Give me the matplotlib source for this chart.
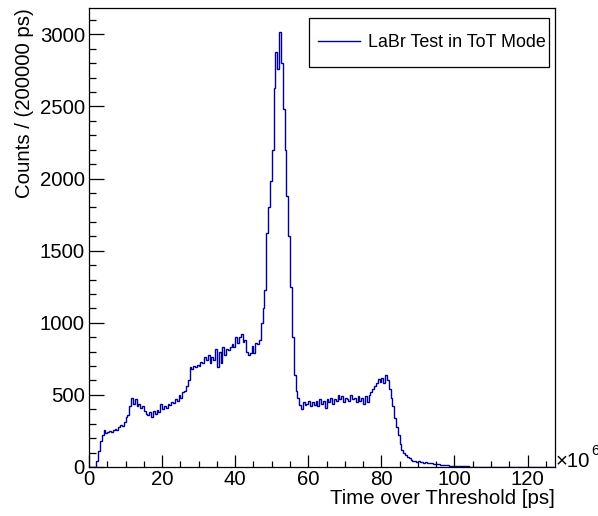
import numpy as np
import matplotlib
matplotlib.use("Agg")
import matplotlib.pyplot as plt
from matplotlib.patches import Rectangle

plt.rcParams['font.family'] = ['Liberation Sans', 'DejaVu Sans']

# ToT histogram, bins of 0.5 (x10^6 ps), counts per 200000 ps
bin_width = 0.5
counts = [
    # 0 - 10
    0, 0, 0, 0, 40, 110, 180, 220, 260, 235,
    240, 250, 245, 258, 262, 255, 275, 290, 285, 310,
    # 10 - 20
    345, 360, 420, 480, 440, 470, 420, 440, 410, 420,
    390, 370, 360, 380, 350, 385, 370, 395, 380, 440,
    # 20 - 30
    400, 420, 410, 440, 430, 450, 445, 470, 460, 500,
    480, 520, 530, 560, 600, 690, 680, 700, 690, 710,
    # 30 - 40
    700, 730, 720, 760, 740, 780, 720, 760, 740, 820,
    690, 800, 720, 830, 780, 820, 810, 830, 850, 830,
    # 40 - 50
    900, 860, 900, 920, 870, 880, 800, 780, 790, 840,
    790, 860, 850, 880, 1000, 1100, 1230, 1620, 1800, 1980,
    # 50 - 60
    2200, 2630, 2880, 2760, 3020, 2800, 2480, 2200, 1880, 1600,
    1250, 900, 640, 530, 480, 430, 400, 450, 430, 440,
    # 60 - 70
    460, 420, 450, 430, 460, 420, 470, 440, 460, 410,
    470, 450, 480, 440, 470, 460, 500, 470, 490, 450,
    # 70 - 80
    480, 470, 460, 500, 470, 480, 450, 490, 460, 480,
    440, 490, 450, 500, 520, 540, 560, 580, 610, 590,
    # 80 - 90
    620, 580, 640, 600, 540, 480, 420, 340, 280, 220,
    160, 120, 95, 80, 70, 60, 50, 45, 42, 38,
    # 90 - 100
    40, 35, 38, 30, 32, 28, 25, 27, 22, 20,
    22, 18, 15, 16, 13, 12, 11, 10, 9, 8,
    # 100 - 110
    7, 6, 6, 5, 5, 4, 4, 4, 3, 3,
    3, 3, 2, 3, 2, 2, 2, 2, 1, 2,
    # 110 - 127.5
    1, 2, 1, 1, 1, 1, 0, 1, 1, 0,
    1, 0, 0, 1, 0, 0, 1, 0, 0, 0,
    0, 0, 0, 0, 0, 0, 0, 0, 0, 0,
    0, 0, 0, 0, 0,
]
counts = np.array(counts, dtype=float)
edges = np.arange(len(counts) + 1) * bin_width

legend_label = "LaBr Test in ToT Mode"
x_title = "Time over Threshold [ps]"
y_title = "Counts / (200000 ps)"

W, H = 598, 516
fig = plt.figure(figsize=(W / 100, H / 100), dpi=100)
ax = fig.add_axes([89 / W, 49 / H, 466 / W, 459 / H])

ax.stairs(counts, edges, color='#000099', linewidth=1.0, label=legend_label)

ax.set_xlim(0, 127.5)
ax.set_ylim(0, 3183)

ax.set_xticks(np.arange(0, 121, 20))
ax.set_xticks(np.arange(0, 127.5, 5), minor=True)
ax.set_yticks(np.arange(0, 3001, 500))
ax.set_yticks(np.arange(0, 3183, 100), minor=True)

ax.tick_params(axis='both', which='both', direction='in', top=False, right=False,
               labelsize=14.7, width=0.9, color='black')
ax.tick_params(axis='x', which='major', length=9, pad=2)
ax.tick_params(axis='x', which='minor', length=4.5)
ax.tick_params(axis='y', which='major', length=10.5, pad=3)
ax.tick_params(axis='y', which='minor', length=5)
for s in ax.spines.values():
    s.set_linewidth(0.9)

ax.set_xlabel(x_title, fontsize=14.7, loc='right', labelpad=0)
ax.set_ylabel(y_title, fontsize=14.7, loc='top', labelpad=4)

# axis exponent
fig.text(556 / W, 1 - 467 / H, "\u00d710", fontsize=14.7, ha='left', va='baseline')
fig.text(591 / W, 1 - 455 / H, "6", fontsize=10.5, ha='left', va='baseline')

# legend box (ROOT TLegend style)
box = Rectangle((309 / W, 1 - 67 / H), 240 / W, 49 / H, transform=fig.transFigure,
                facecolor='white', edgecolor='black', linewidth=0.9,
                clip_on=False, zorder=5)
ax.add_patch(box)
leg = ax.legend(loc='center left', bbox_to_anchor=(318 / W, 1 - 42.5 / H),
                bbox_transform=fig.transFigure, fontsize=12.9, frameon=False,
                handlelength=2.34, handletextpad=0.45, borderpad=0, borderaxespad=0)
leg.set_zorder(6)

fig.savefig("out.png", dpi=100)
